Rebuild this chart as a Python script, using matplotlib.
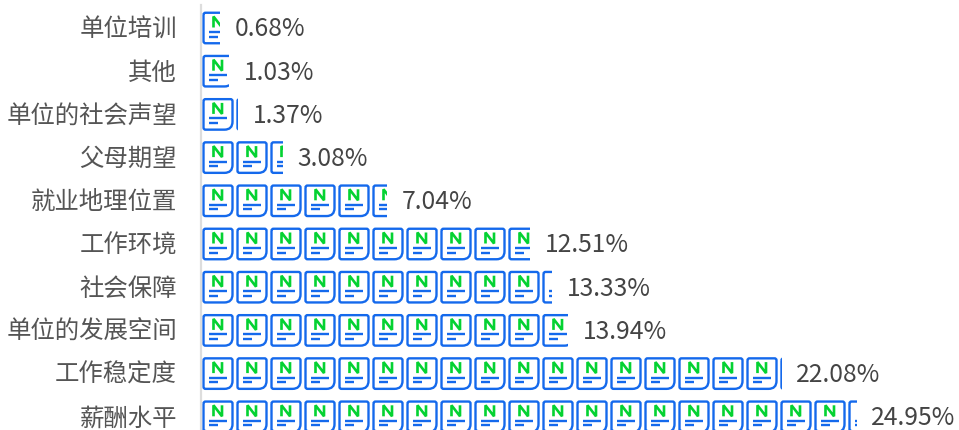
import matplotlib
matplotlib.use('Agg')
import matplotlib.pyplot as plt
from matplotlib.patches import PathPatch
from matplotlib.path import Path
from matplotlib.transforms import Affine2D, ScaledTranslation

plt.rcParams['font.family'] = ['Noto Sans CJK SC', 'DejaVu Sans']

categories = ['单位培训', '其他', '单位的社会声望', '父母期望', '就业地理位置',
              '工作环境', '社会保障', '单位的发展空间', '工作稳定度', '薪酬水平']
values = [0.68, 1.03, 1.37, 3.08, 7.04, 12.51, 13.33, 13.94, 22.08, 24.95]

BLUE = '#1469ec'
GREEN = '#04d232'

# pixels per data unit
px_x = 26.25
px_y = 43.2
period = 34 / px_x

# icon outline in local pixels, y grows downwards, centred on the row
left, right = 1.5, 30.5
h = 30.5
M, L, Q = Path.MOVETO, Path.LINETO, Path.CURVE3
shield = Path(
    [(left, -h/2 + 2), (left, -h/2), (left + 2, -h/2), (right - 2, -h/2), (right, -h/2), (right, -h/2 + 2),
     (right, h/2 - 8), (right, h/2), (right - 8, h/2), (left + 2, h/2), (left, h/2), (left, h/2 - 2), (left, -h/2 + 2)],
    [M, Q, Q, L, Q, Q, L, Q, Q, L, Q, Q, L])
letter = Path([(11.5, -0.5), (11.5, -11.5), (20, -0.5), (20, -11.5)], [M, L, L, L])
line_long = Path([(7, 4), (25, 4)], [M, L])
line_short = Path([(7, 8.5), (16, 8.5)], [M, L])

fig = plt.figure(figsize=(9.59, 4.30), dpi=100)
ax = fig.add_axes([202 / 959, 0, 757 / 959, 425 / 430])

# spine first, moving it resets the ticks
ax.xaxis.set_visible(False)
for side in ['top', 'right', 'bottom']:
    ax.spines[side].set_visible(False)
ax.spines['left'].set_color('#dddddd')
ax.spines['left'].set_linewidth(1.6)
ax.spines['left'].set_position(('outward', 0.72))

ax.set_xlim(0, 757 / px_x)
ax.set_ylim((430 - 28) / px_y, (5 - 28) / px_y)

bars = ax.barh(range(len(values)), values, height=34 / px_y, color='none', edgecolor='none')

for i, (bar, value) in enumerate(zip(bars, values)):
    n = 0
    while n * period < value:
        x0 = n * period
        tr = Affine2D().scale(1 / px_x, 1 / px_y).translate(x0, i) + ax.transData
        for path, color, lw in [(shield, BLUE, 1.7), (letter, GREEN, 1.9),
                                (line_long, BLUE, 1.7), (line_short, BLUE, 1.7)]:
            p = PathPatch(path, facecolor='none', edgecolor=color, linewidth=lw,
                          transform=tr, capstyle='butt', joinstyle='miter')
            ax.add_patch(p)
            p.set_clip_path(bar)
        n += 1
    t = ax.text(value + 14.5 / px_x, i, f'{value:.2f}%', va='center', ha='left',
                fontsize=17.8, color='#444444', clip_on=False)
    t.set_transform(t.get_transform() + ScaledTranslation(0, -1.5 / 100, fig.dpi_scale_trans))

ax.set_yticks(range(len(categories)))
ax.set_yticklabels(categories, fontsize=17.6, color='#555555')
ax.tick_params(axis='y', length=0, pad=17.3)
for label in ax.get_yticklabels():
    label.set_transform(label.get_transform() + ScaledTranslation(0, 1.6 / 100, fig.dpi_scale_trans))

fig.savefig('out.png', dpi=100)
